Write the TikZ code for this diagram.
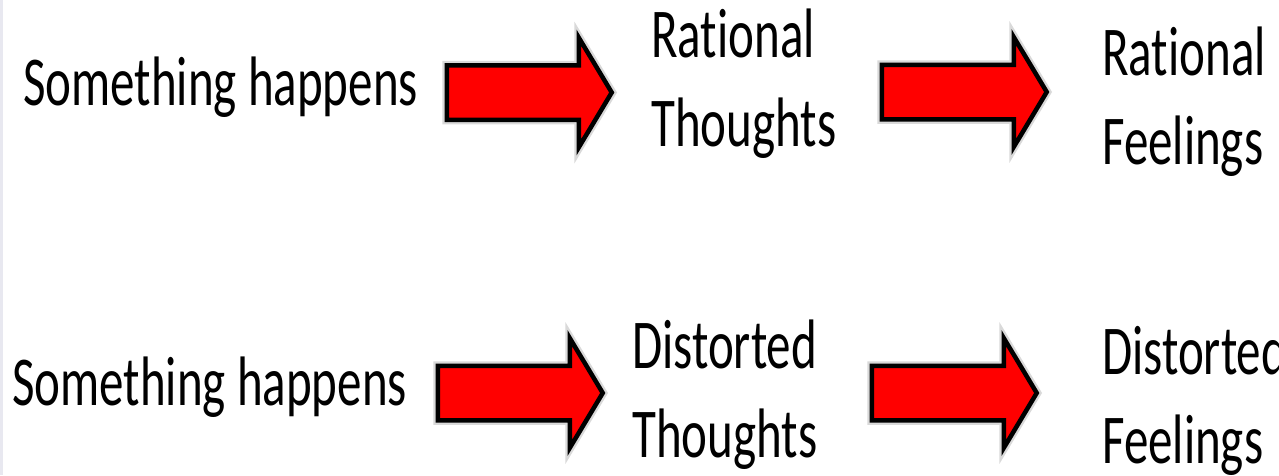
\documentclass[tikz,border=0pt]{standalone}
\usepackage{fontspec}
\setmainfont[Ligatures=NoCommon]{Carlito}
\usepackage{graphicx}
\usetikzlibrary{shapes.arrows}

\newcommand{\squeeze}[1]{\scalebox{0.7}[1]{#1}}

\begin{document}
\begin{tikzpicture}[
    x=1pt, y=-1pt,
    caption/.style={anchor=base west, inner sep=0pt, align=left, font=\fontsize{70}{89}\selectfont},
    bigarrow/.style={single arrow, draw=black, fill=red, line width=4.5pt,
        minimum height=165pt, inner xsep=0pt, inner ysep=25pt,
        single arrow head extend=27.5pt, single arrow tip angle=118, anchor=tail,
        preaction={draw=black!15, line width=9pt}}
]
\useasboundingbox (0,0) rectangle (1279,475);
\fill[blue!20!gray!15] (0,0) rectangle (3,475);

% Rational row (base = last line)
\node[caption] (evtop) at (23,105) {\squeeze{Something happens}};
\node[caption] (ratthought) at (651,146) {\squeeze{Rational}\\\squeeze{Thoughts}};
\node[caption] (ratfeel) at (1102,164) {\squeeze{Rational}\\\squeeze{Feelings}};

% Distorted row
\node[caption] (evbot) at (12,405) {\squeeze{Something happens}};
\node[caption] (disthought) at (632,457) {\squeeze{Distorted}\\\squeeze{Thoughts}};
\node[caption] (disfeel) at (1102,463) {\squeeze{Distorted}\\\squeeze{Feelings}};

% Arrows
\node[bigarrow] (a1) at (444.5,92.5) {};
\node[bigarrow] (a2) at (879.5,92) {};
\node[bigarrow] (a3) at (435.5,393) {};
\node[bigarrow] (a4) at (869.5,393) {};

\end{tikzpicture}
\end{document}
